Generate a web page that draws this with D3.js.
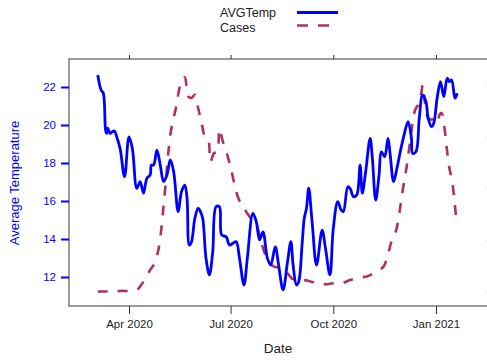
<!DOCTYPE html>
<html>
<head>
<meta charset="utf-8">
<script src="https://cdn.jsdelivr.net/npm/d3@7"></script>
<style>
  body { margin: 0; background: white; }
  text { font-family: "Liberation Sans", Arial, sans-serif; }
</style>
</head>
<body>
<div id="chart"></div>
<script>
// temperature series (date, value)
const tempDates = ["2020-03-04","2020-03-07","2020-03-09","2020-03-11","2020-03-12","2020-03-13","2020-03-15","2020-03-17","2020-03-19","2020-03-21",
  "2020-03-24","2020-03-28","2020-04-01","2020-04-04","2020-04-08","2020-04-11","2020-04-14","2020-04-17","2020-04-20","2020-04-21",
  "2020-04-23","2020-04-26","2020-04-29","2020-05-02","2020-05-05","2020-05-08","2020-05-11","2020-05-15","2020-05-18","2020-05-21",
  "2020-05-23","2020-05-25","2020-05-27","2020-05-30","2020-06-02","2020-06-04","2020-06-06","2020-06-09","2020-06-12","2020-06-15",
  "2020-06-18","2020-06-21","2020-06-23","2020-06-27","2020-06-30","2020-07-03","2020-07-06","2020-07-09","2020-07-13","2020-07-16",
  "2020-07-21","2020-07-24","2020-07-27","2020-07-30","2020-08-03","2020-08-06","2020-08-10","2020-08-13","2020-08-17","2020-08-21",
  "2020-08-24","2020-08-26","2020-08-29","2020-08-31","2020-09-03","2020-09-05","2020-09-07","2020-09-09","2020-09-12","2020-09-16",
  "2020-09-21","2020-09-24","2020-09-28","2020-10-01","2020-10-05","2020-10-08","2020-10-10","2020-10-14","2020-10-16","2020-10-19",
  "2020-10-22","2020-10-25","2020-10-27","2020-10-30","2020-11-03","2020-11-05","2020-11-08","2020-11-11","2020-11-13","2020-11-16",
  "2020-11-19","2020-11-21","2020-11-24","2020-11-27","2020-11-30","2020-12-03","2020-12-07","2020-12-10","2020-12-11","2020-12-14",
  "2020-12-17","2020-12-20","2020-12-23","2020-12-25","2020-12-28","2020-12-30","2021-01-02","2021-01-05","2021-01-08","2021-01-11",
  "2021-01-13","2021-01-15","2021-01-18","2021-01-20"]
const tempValues = [22.63,21.84,21.67,19.74,19.56,19.83,19.56,19.65,19.68,19.38,
  18.77,17.28,19.38,18.77,16.67,17.02,16.41,17.19,17.37,17.89,
  17.89,18.68,17.89,17.02,17.37,18.16,17.54,15.44,16.49,16.84,
  16.14,13.68,13.86,15.09,15.62,15.44,15.09,12.98,12.11,13.33,
  15.70,15.70,14.21,14.12,13.68,13.77,13.86,12.98,11.58,12.98,
  15.35,14.91,13.95,14.38,12.98,12.63,13.59,12.63,11.32,12.80,
  13.86,12.63,11.58,11.75,13.68,15.09,15.62,16.67,14.91,12.63,
  14.47,13.51,12.11,14.56,15.96,15.53,15.44,16.75,16.67,16.23,
  16.32,17.89,16.41,17.54,19.30,18.25,16.05,17.37,18.59,18.33,
  19.30,18.42,17.02,17.72,18.59,19.38,20.17,19.30,18.51,18.59,
  20.35,21.58,21.23,20.35,19.91,20.09,21.41,22.28,21.49,22.46,
  22.28,22.37,21.41,21.67]

// cases series (thousands, secondary axis)
const caseDates = ["2020-03-04","2020-03-12","2020-03-24","2020-04-08","2020-04-12","2020-04-16","2020-04-20","2020-04-23","2020-04-27","2020-04-30",
  "2020-05-02","2020-05-04","2020-05-06","2020-05-09","2020-05-13","2020-05-17","2020-05-21","2020-05-24","2020-05-27","2020-05-30",
  "2020-06-02","2020-06-05","2020-06-08","2020-06-11","2020-06-13","2020-06-16","2020-06-19","2020-06-21","2020-06-24","2020-06-28",
  "2020-07-01","2020-07-04","2020-07-08","2020-07-13","2020-07-19","2020-07-23","2020-07-27","2020-07-30","2020-08-04","2020-08-09",
  "2020-08-14","2020-08-21","2020-08-25","2020-08-30","2020-09-05","2020-09-11","2020-09-17","2020-09-24","2020-10-01","2020-10-09",
  "2020-10-16","2020-10-25","2020-10-31","2020-11-06","2020-11-12","2020-11-15","2020-11-19","2020-11-22","2020-11-26","2020-11-29",
  "2020-12-01","2020-12-04","2020-12-06","2020-12-08","2020-12-10","2020-12-12","2020-12-14","2020-12-16","2020-12-19","2020-12-20",
  "2020-12-22","2020-12-25","2020-12-28","2020-12-31","2021-01-03","2021-01-04","2021-01-06","2021-01-09","2021-01-11","2021-01-13",
  "2021-01-15","2021-01-17","2021-01-19"]
const caseValues = [0.01,0.01,0.02,0.04,0.14,0.26,0.43,0.52,0.78,1.23,
  1.68,2.13,2.65,3.17,3.55,4.00,4.15,3.78,3.75,3.81,
  3.55,3.27,3.00,2.94,2.52,2.68,2.71,3.15,2.91,2.65,
  2.42,2.13,1.81,1.62,1.43,1.36,1.10,0.85,0.59,0.49,
  0.47,0.36,0.26,0.23,0.23,0.20,0.17,0.15,0.17,0.17,
  0.23,0.28,0.30,0.36,0.44,0.49,0.72,0.97,1.17,1.49,
  1.81,2.20,2.46,2.78,3.10,3.42,3.55,3.62,3.87,4.00,
  3.68,3.36,3.33,3.36,3.29,3.42,3.46,3.10,2.71,2.39,
  2.20,1.88,1.43]

const xTickDates = ["2020-04-01","2020-07-01","2020-10-01","2021-01-01"]
const tempTicks = [12,14,16,18,20,22]
const caseTicks = [0,1,2,3,4]

const width = 487, height = 360
const plotLeft = 69, plotTop = 59, plotBottom = 306, plotRight = 500

const parse = d3.timeParse("%Y-%m-%d")
const temp = tempDates.map((d, i) => ({date: parse(d), v: tempValues[i]}))
const cases = caseDates.map((d, i) => ({date: parse(d), v: caseValues[i]}))

const svg = d3.select("#chart").append("svg")
    .attr("width", width)
    .attr("height", height)

const x = d3.scaleTime()
    .domain([parse("2020-04-01"), parse("2021-01-01")])
    .range([129, 436])

const y = d3.scaleLinear().domain([12, 22]).range([277, 87])
const y2 = d3.scaleLinear().domain([0, 4]).range([292, 85])

// box
svg.append("rect")
    .attr("x", plotLeft).attr("y", plotTop)
    .attr("width", plotRight - plotLeft).attr("height", plotBottom - plotTop)
    .attr("fill", "none")
    .attr("stroke", "#666")
    .attr("stroke-width", 1.3)

// bottom axis
const xb = svg.append("g").attr("transform", `translate(0,${plotBottom})`)
    .call(d3.axisBottom(x).tickValues(xTickDates.map(parse)).tickSize(8).tickPadding(6)
        .tickFormat(d3.timeFormat("%b %Y")))
xb.select(".domain").remove()
xb.selectAll("line").attr("stroke", "#333")
xb.selectAll("text").style("font-size", "11.5px").attr("fill", "#222")

// top ticks
const xt = svg.append("g").attr("transform", `translate(0,${plotTop})`)
    .call(d3.axisTop(x).tickValues(xTickDates.map(parse)).tickSize(4).tickFormat(""))
xt.select(".domain").remove()
xt.selectAll("line").attr("stroke", "#333")

// left axis
const yl = svg.append("g").attr("transform", `translate(${plotLeft},0)`)
    .call(d3.axisLeft(y).tickValues(tempTicks).tickSize(8).tickPadding(5))
yl.select(".domain").remove()
yl.selectAll("line").attr("stroke", "blue").attr("stroke-width", 2)
yl.selectAll("text").style("font-size", "11.5px").attr("fill", "blue")

// faint right axis ticks (axis itself sits off the page)
const yr = svg.append("g").attr("transform", `translate(${width},0)`)
    .call(d3.axisRight(y2).tickValues(caseTicks).tickSize(4).tickFormat(""))
yr.select(".domain").remove()
yr.selectAll("line").attr("stroke", "#ddd").attr("transform", "translate(-1,0)")

// lines
const tempLine = d3.line()
    .x(d => x(d.date))
    .y(d => y(d.v))
    .curve(d3.curveCatmullRom.alpha(0.5))

const caseLine = d3.line()
    .x(d => x(d.date))
    .y(d => y2(d.v))
    .curve(d3.curveCatmullRom.alpha(0.5))

svg.append("path")
    .datum(cases)
    .attr("d", caseLine)
    .attr("fill", "none")
    .attr("stroke", "#B03060")
    .attr("stroke-width", 2.6)
    .attr("stroke-dasharray", "10,10")

svg.append("path")
    .datum(temp)
    .attr("d", tempLine)
    .attr("fill", "none")
    .attr("stroke", "blue")
    .attr("stroke-width", 2.8)
    .attr("stroke-linejoin", "round")

// axis titles
svg.append("text")
    .attr("x", 278).attr("y", 353)
    .attr("text-anchor", "middle")
    .style("font-size", "13.5px")
    .attr("fill", "#222")
    .text("Date")

svg.append("text")
    .attr("transform", "translate(19,183) rotate(-90)")
    .attr("text-anchor", "middle")
    .style("font-size", "13px")
    .attr("fill", "blue")
    .text("Average Temperature")

// legend
const legend = svg.append("g")
legend.append("text").attr("x", 220).attr("y", 17).style("font-size", "12.5px").attr("fill", "#222").text("AVGTemp")
legend.append("text").attr("x", 220).attr("y", 31.5).style("font-size", "12.5px").attr("fill", "#222").text("Cases")
legend.append("line").attr("x1", 297).attr("x2", 338).attr("y1", 12.5).attr("y2", 12.5)
    .attr("stroke", "blue").attr("stroke-width", 2.8)
legend.append("line").attr("x1", 297).attr("x2", 338).attr("y1", 25.5).attr("y2", 25.5)
    .attr("stroke", "#B03060").attr("stroke-width", 2.6).attr("stroke-dasharray", "11,10")
</script>
</body>
</html>
